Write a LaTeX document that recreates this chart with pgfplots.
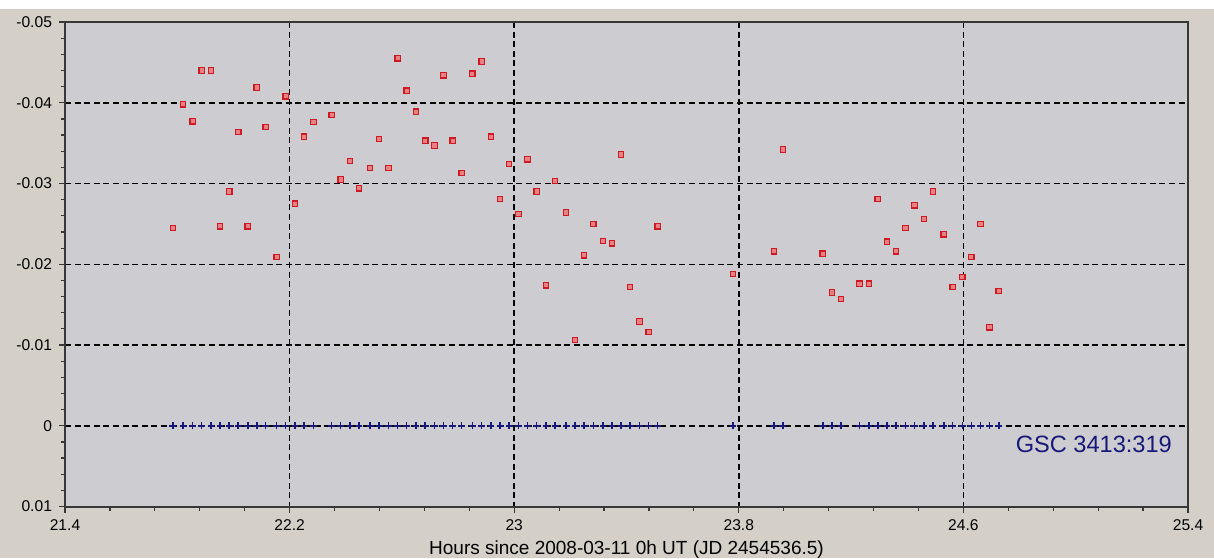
\documentclass[border=0pt]{standalone}
\usepackage{fontspec}
\setmainfont{Liberation Sans}
\usepackage{pgfplots}
\usepackage{pgfplotstable}
\pgfplotsset{compat=1.18}
\definecolor{outerbg}{RGB}{212,208,200}
\definecolor{plotbg}{RGB}{205,204,208}
\definecolor{ptred}{RGB}{205,25,35}
\definecolor{ptfill}{RGB}{232,130,130}
\definecolor{navy}{RGB}{24,24,120}
\definecolor{axisgray}{RGB}{55,55,55}

% t = hours, v = var-comp, c = check-comp
\pgfplotstableread{
t      v        c
21.784 -0.0245  0
21.821 -0.0398  0
21.855 -0.0377  0
21.887 -0.0440  0
21.920 -0.0440  0
21.952 -0.0247  0
21.985 -0.0290  0
22.017 -0.0364  0
22.051 -0.0247  0
22.083 -0.0419  0
22.115 -0.0370  0
22.154 -0.0209  0
22.186 -0.0408  0
22.219 -0.0275  0
22.251 -0.0358  0
22.285 -0.0376  0
22.350 -0.0385  0
22.382 -0.0305  0
22.415 -0.0328  0
22.447 -0.0294  0
22.487 -0.0319  0
22.519 -0.0355  0
22.552 -0.0319  0
22.585 -0.0455  0
22.617 -0.0415  0
22.650 -0.0389  0
22.683 -0.0353  0
22.716 -0.0347  0
22.748 -0.0434  0
22.781 -0.0353  0
22.813 -0.0313  0
22.851 -0.0436  0
22.884 -0.0451  0
22.917 -0.0358  0
22.950 -0.0281  0
22.982 -0.0324  0
23.015 -0.0262  0
23.047 -0.0330  0
23.080 -0.0290  0
23.113 -0.0174  0
23.146 -0.0303  0
23.185 -0.0264  0
23.217 -0.0106  0
23.249 -0.0211  0
23.282 -0.0250  0
23.316 -0.0229  0
23.348 -0.0226  0
23.381 -0.0336  0
23.413 -0.0172  0
23.446 -0.0129  0
23.479 -0.0116  0
23.511 -0.0247  0
23.779 -0.0188  0
23.925 -0.0216  0
23.957 -0.0342  0
24.099 -0.0213  0
24.132 -0.0165  0
24.164 -0.0157  0
24.230 -0.0176  0
24.263 -0.0176  0
24.295 -0.0281  0
24.328 -0.0228  0
24.360 -0.0216  0
24.394 -0.0245  0
24.426 -0.0273  0
24.459 -0.0256  0
24.491 -0.0290  0
24.530 -0.0237  0
24.562 -0.0172  0
24.596 -0.0184  0
24.628 -0.0209  0
24.661 -0.0250  0
24.693 -0.0122  0
24.726 -0.0167  0
}\lcdata

\begin{document}
\begin{tikzpicture}
\fill[white] (0,0) rectangle (607pt,279pt);
\fill[outerbg] (0,0) rectangle (607pt,274.5pt);
\path[use as bounding box] (0,0) rectangle (607pt,279pt);
\begin{axis}[
    at={(32.5pt,25.75pt)}, anchor=south west,
    scale only axis,
    width=561.5pt, height=242.25pt,
    xmin=21.4, xmax=25.4,
    ymin=-0.05, ymax=0.01,
    y dir=reverse,
    scaled y ticks=false,
    scaled x ticks=false,
    xtick={21.4,22.2,23,23.8,24.6,25.4},
    xticklabels={21.4,22.2,23,23.8,24.6,25.4},
    ytick={-0.05,-0.04,-0.03,-0.02,-0.01,0,0.01},
    yticklabels={-0.05,-0.04,-0.03,-0.02,-0.01,0,0.01},
    minor x tick num=4,
    minor y tick num=4,
    tick align=outside,
    xtick pos=bottom,
    ytick pos=left,
    major tick length=3pt,
    minor tick length=2.2pt,
    tick style={axisgray, line width=0.6pt},
    axis line style={axisgray, line width=1pt},
    axis background/.style={fill=plotbg},
    grid=major,
    major grid style={black, line width=0.75pt, dash pattern=on 3pt off 1.8pt},
    tick label style={font=\fontsize{7.8}{9}\selectfont, text=black},
    xlabel={Hours since 2008-03-11 0h UT (JD 2454536.5)},
    xlabel style={font=\fontsize{9.5}{11}\selectfont, yshift=2pt},
    clip=false,
]
\addplot[only marks, mark=+, mark size=1.7pt, navy, line width=0.75pt]
    table[x=t, y=c] {\lcdata};
\addplot[only marks, mark=square*, mark size=1.35pt,
    mark options={draw=ptred, fill=ptfill, line width=0.6pt}]
    table[x=t, y=v] {\lcdata};
\node[anchor=east, text=navy, inner sep=0pt,
    font=\fontsize{11.8}{13}\selectfont] at (axis cs:25.344,0.00226) {GSC 3413:319};
\end{axis}
\end{tikzpicture}
\end{document}
